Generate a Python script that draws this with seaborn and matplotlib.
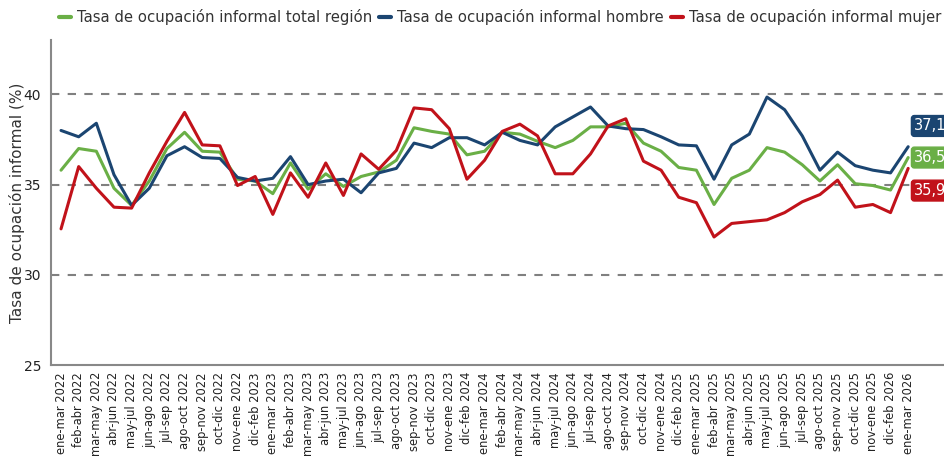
import numpy as np
import pandas as pd
import matplotlib.pyplot as plt
import seaborn as sns

# Periods (moving quarters)
years_cycle = ['2022', '2023', '2024', '2025']
months = ['ene-mar', 'feb-abr', 'mar-may', 'abr-jun', 'may-jul', 'jun-ago',
          'jul-sep', 'ago-oct', 'sep-nov', 'oct-dic', 'nov-ene', 'dic-feb']
periods = []
for y in years_cycle:
    for m in months:
        yr = str(int(y) + 1) if m == 'dic-feb' else y
        periods.append(f'{m} {yr}')
periods.append('ene-mar 2026')

total = [35.8, 37.0, 36.85, 34.8, 33.85, 35.2, 37.0, 37.9, 36.85, 36.8, 35.3, 35.2,
         34.5, 36.2, 34.75, 35.6, 34.9, 35.45, 35.7, 36.35, 38.15, 37.95, 37.8, 36.65,
         36.85, 37.9, 37.8, 37.4, 37.05, 37.45, 38.2, 38.2, 38.4, 37.3, 36.85, 35.95,
         35.8, 33.9, 35.35, 35.8, 37.05, 36.8, 36.1, 35.2, 36.1, 35.05, 34.95, 34.7, 36.5]
hombre = [38.0, 37.65, 38.4, 35.55, 33.85, 34.8, 36.6, 37.1, 36.5, 36.45, 35.4, 35.2,
          35.35, 36.55, 35.0, 35.2, 35.3, 34.55, 35.65, 35.9, 37.3, 37.05, 37.6, 37.6,
          37.2, 37.9, 37.45, 37.2, 38.2, 38.75, 39.3, 38.25, 38.1, 38.05, 37.65, 37.2,
          37.15, 35.3, 37.2, 37.8, 39.85, 39.15, 37.7, 35.8, 36.8, 36.05, 35.8, 35.65, 37.1]
mujer = [32.55, 36.0, 34.8, 33.75, 33.7, 35.65, 37.4, 39.0, 37.2, 37.15, 34.95, 35.45,
         33.35, 35.65, 34.3, 36.2, 34.4, 36.7, 35.85, 36.9, 39.25, 39.15, 38.1, 35.3,
         36.35, 37.95, 38.35, 37.7, 35.6, 35.6, 36.7, 38.25, 38.65, 36.3, 35.8, 34.3,
         34.0, 32.1, 32.85, 32.95, 33.05, 33.45, 34.05, 34.45, 35.25, 33.75, 33.9, 33.45, 35.9]

series_names = ['Tasa de ocupación informal total región',
                'Tasa de ocupación informal hombre',
                'Tasa de ocupación informal mujer']
colors = ['#6aaf46', '#1b4571', '#c1121a']

df = pd.DataFrame({'x': np.arange(len(periods)), 'periodo': periods,
                   series_names[0]: total, series_names[1]: hombre, series_names[2]: mujer})
long = df.melt(id_vars=['x', 'periodo'], var_name='serie', value_name='valor')

sns.set_style('white')
plt.rcParams['font.family'] = ['DejaVu Sans']
fig = plt.figure(figsize=(9.44, 4.57), dpi=100)
ax = fig.add_axes([0.054, 0.201, 0.946, 0.711])

sns.lineplot(data=long, x='x', y='valor', hue='serie', hue_order=series_names,
             palette=colors, linewidth=2.2, ax=ax, legend=False)

ax.set_xlim(-0.57, 50.03)
ax.set_ylim(25, 43)
ax.set_yticks([25, 30, 35, 40])
for v in [30, 35, 40]:
    ax.axhline(v, color='#808080', linestyle=(0, (4, 4)), linewidth=1.5, zorder=0)

ax.set_xticks(df['x'])
ax.set_xticklabels(periods, rotation=90, fontsize=8.3)
ax.tick_params(axis='y', labelsize=10, length=4, pad=3, color='#888888', labelcolor='#222222')
ax.tick_params(axis='x', length=3, pad=2, color='#888888', labelcolor='#222222')
ax.set_xlabel('')
ax.set_ylabel('Tasa de ocupación informal (%)', fontsize=11, color='#333333', labelpad=-1)

for s in ['top', 'right']:
    ax.spines[s].set_visible(False)
for s in ['left', 'bottom']:
    ax.spines[s].set_color('#888888')
    ax.spines[s].set_linewidth(1.5)

# End labels
last = len(periods) - 1
label_y = [36.5, 38.25, 34.67]
for vals, c, ly in zip([total, hombre, mujer], colors, label_y):
    txt = f'{vals[-1]:.1f}'.replace('.', ',')
    ax.text(last + 0.35, ly, txt, color='white', fontsize=10.5, va='center', ha='left',
            clip_on=False,
            bbox=dict(boxstyle='round,pad=0.2', facecolor=c, edgecolor=c))

handles = [plt.Line2D([0], [0], color=c, linewidth=3) for c in colors]
fig.legend(handles, series_names, loc='upper left', bbox_to_anchor=(0.048, 1.01),
           ncol=3, frameon=False, fontsize=10.7, handlelength=0.8, handletextpad=0.4,
           columnspacing=0.5, labelcolor='#333333')

fig.savefig('out.png', dpi=100)
